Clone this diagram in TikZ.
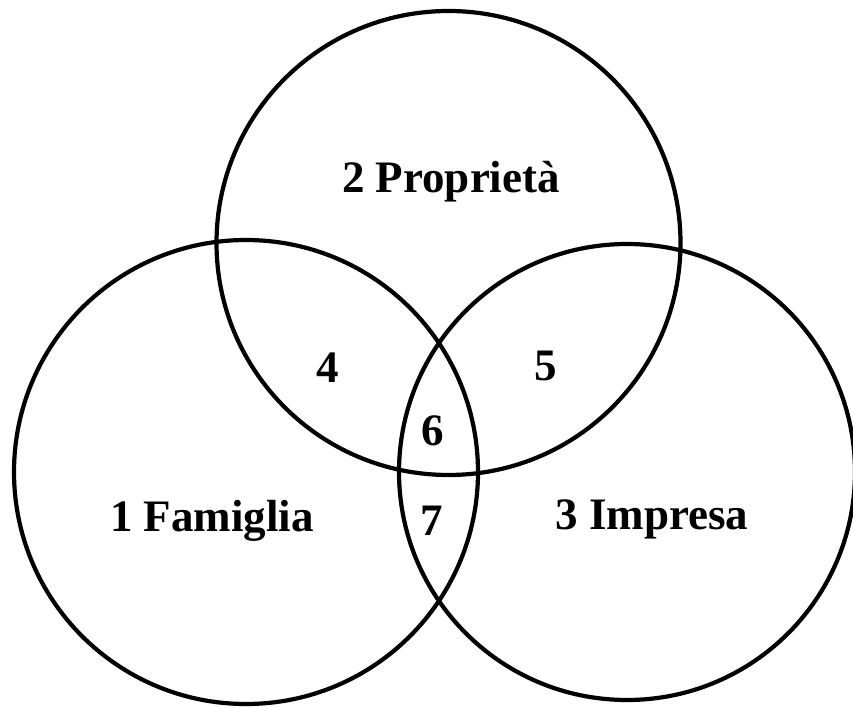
\documentclass[tikz,border=0pt]{standalone}
\usepackage{fontspec}
\setmainfont{Liberation Serif}
\begin{document}
\begin{tikzpicture}[x=1pt,y=-1pt,
  ring/.style={draw=black,line width=4.2pt},
  lbl/.style={font=\fontsize{45}{48}\selectfont\bfseries,inner sep=0pt}]
\useasboundingbox (0,0) rectangle (853,708);
\draw[ring] (448.5,243) circle[radius=232];
\draw[ring] (246,472) circle[radius=232];
\draw[ring] (627,472) circle[radius=228];
\node[lbl] (p2) at (451,182) {2 Proprietà};
\node[lbl] (p1) at (212,521) {1 Famiglia};
\node[lbl] (p3) at (652,519) {3 Impresa};
\node[lbl] (p4) at (328,368) {4};
\node[lbl] (p5) at (546,366) {5};
\node[lbl] (p6) at (433,431) {6};
\node[lbl] (p7) at (432,521) {7};
\end{tikzpicture}
\end{document}
